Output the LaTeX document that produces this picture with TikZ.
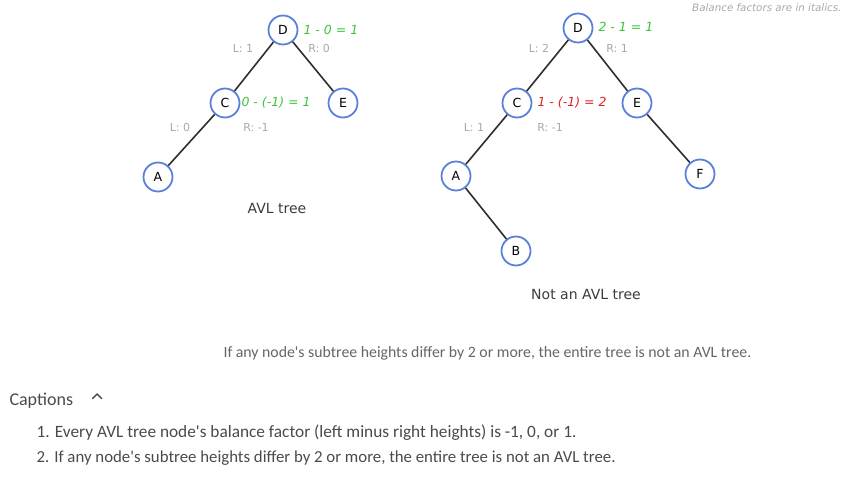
\documentclass[tikz,border=0pt]{standalone}
\usepackage{fontspec}
\setmainfont{DejaVu Sans}
\newfontfamily\capfont{Carlito}
\usepackage{xcolor}
\definecolor{nodecol}{HTML}{5B80DC}
\definecolor{edgecol}{HTML}{2E2E2E}
\definecolor{bfgood}{HTML}{3CC43C}
\definecolor{bfbad}{HTML}{E0202A}
\definecolor{hcol}{HTML}{A8A8A8}
\definecolor{txtcol}{HTML}{4A4A4A}
\tikzstyle{treenode}=[circle,draw=nodecol,line width=1.8pt,minimum size=29pt,inner sep=0pt,font=\fontsize{12.5}{14}\selectfont]
\tikzstyle{treeedge}=[edgecol,line width=1.6pt]
\tikzstyle{height}=[hcol,font=\fontsize{11}{13}\selectfont]
\tikzset{
  bf/.style={anchor=west,#1,font=\fontsize{12.5}{14}\selectfont\itshape},
  bf/.default=bfgood}
\tikzstyle{title}=[font=\fontsize{14}{16}\selectfont,txtcol!80!black]
\tikzstyle{caption}=[anchor=west,txtcol,font=\capfont\fontsize{16.8}{19}\selectfont]

\begin{document}
\begin{tikzpicture}[x=1pt,y=-1pt]
  \useasboundingbox (0,0) rectangle (856,478);

  % AVL TREE
  \node[treenode] (D1) at (283,30)  {D};
  \node[treenode] (C1) at (225,103) {C};
  \node[treenode] (E1) at (343,103) {E};
  \node[treenode] (A1) at (158,177) {A};
  \draw[treeedge] (D1) -- (C1);
  \draw[treeedge] (D1) -- (E1);
  \draw[treeedge] (C1) -- (A1);

  \node[bf] (bfD1) at (300,30) {1 - 0 = 1};
  \node[bf] (bfC1) at (238,103) {0 - (-1) = 1};
  \node[height] (lD1) at (243,48)  {L: 1};
  \node[height] (rD1) at (319,48)  {R: 0};
  \node[height] (lC1) at (180,127) {L: 0};
  \node[height] (rC1) at (256,127) {R: -1};
  \node[title] (t1) at (277,208) {AVL tree};

  % NOT AN AVL TREE
  \node[treenode] (D2) at (578,28)  {D};
  \node[treenode] (C2) at (517,103) {C};
  \node[treenode] (E2) at (637,103) {E};
  \node[treenode] (A2) at (456,176) {A};
  \node[treenode] (F2) at (700,174) {F};
  \node[treenode] (B2) at (516,251) {B};
  \draw[treeedge] (D2) -- (C2);
  \draw[treeedge] (D2) -- (E2);
  \draw[treeedge] (C2) -- (A2);
  \draw[treeedge] (E2) -- (F2);
  \draw[treeedge] (A2) -- (B2);

  \node[bf] (bfD2) at (595,27) {2 - 1 = 1};
  \node[bf=bfbad] (bfC2) at (534,103) {1 - (-1) = 2};
  \node[height] (lD2) at (539,48)  {L: 2};
  \node[height] (rD2) at (617,48)  {R: 1};
  \node[height] (lC2) at (474,127) {L: 1};
  \node[height] (rC2) at (550,127) {R: -1};
  \node[title] (t2) at (586,294) {Not an AVL tree};

  \node[anchor=east,hcol,font=\fontsize{10.3}{12}\selectfont\itshape] (note) at (845,8) {Balance factors are in italics.};

  % CAPTIONS
  \node[caption,txtcol!85,font=\capfont\fontsize{15.8}{18}\selectfont] (sum) at (220,353) {If any node's subtree heights differ by 2 or more, the entire tree is not an AVL tree.};
  \node[caption,font=\capfont\fontsize{18}{20}\selectfont] (cap) at (6,401) {Captions};
  \draw[txtcol,line width=1.5pt,line cap=round,line join=round]
    ([xshift=16pt,yshift=2.5pt]cap.east) -- ++(4.5,-4.5) -- ++(4.5,4.5);
  \node[caption,font=\capfont\fontsize{17.3}{19}\selectfont] (c1) at (33,433) {1. Every AVL tree node's balance factor (left minus right heights) is -1, 0, or 1.};
  \node[caption] (c2) at (33,458) {2. If any node's subtree heights differ by 2 or more, the entire tree is not an AVL tree.};

\end{tikzpicture}
\end{document}
